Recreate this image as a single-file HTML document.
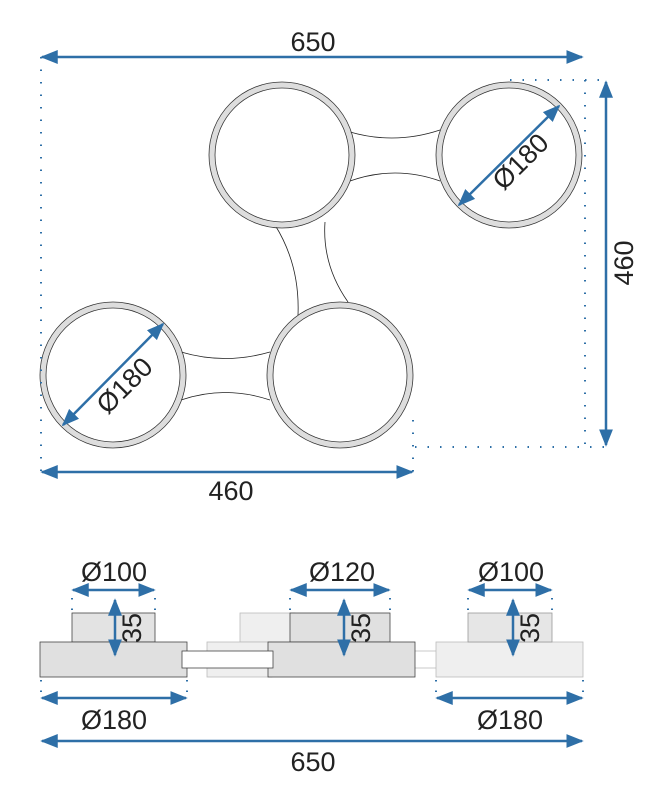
<!DOCTYPE html>
<html><head><style>body{margin:0;background:#fff}svg{display:block}</style></head><body>
<svg width="665" height="800" viewBox="0 0 665 800" xmlns="http://www.w3.org/2000/svg" font-family="Liberation Sans, sans-serif">
<defs>
<marker id="a" viewBox="0 0 10 10" refX="9" refY="5" markerWidth="7" markerHeight="7" orient="auto-start-reverse"><path d="M0,1 L10,5 L0,9 z" fill="#2e6fa7"/></marker>
</defs>
<g fill="none" stroke="#222" stroke-width="0.8">
<path d="M350,132 Q395,145 440,130"/><path d="M350,181 Q395,165 440,181"/>
<path d="M275,225 Q300,265 298,315"/><path d="M325,222 Q322,265 348,302"/>
<path d="M181,352 Q225,365 270,352"/><path d="M181,400 Q225,385 270,400"/>
</g>
<g>
<g fill="#fff" stroke="#ddd" stroke-width="5">
<circle cx="282" cy="155" r="70"/><circle cx="509" cy="155" r="70"/>
<circle cx="113" cy="375" r="70"/><circle cx="340" cy="375" r="70"/>
</g>
<g fill="none" stroke="#333" stroke-width="0.8">
<circle cx="282" cy="155" r="73"/><circle cx="282" cy="155" r="67"/>
<circle cx="509" cy="155" r="73"/><circle cx="509" cy="155" r="67"/>
<circle cx="113" cy="375" r="73"/><circle cx="113" cy="375" r="67"/>
<circle cx="340" cy="375" r="73"/><circle cx="340" cy="375" r="67"/>
</g>
</g>
<g stroke="#2e6fa7" stroke-width="2" stroke-dasharray="1.5 11" fill="none">
<path d="M41,57 V472"/><path d="M510,80 H605"/><path d="M585,80 V447"/><path d="M415,447 H605"/><path d="M413,420 V472"/>
</g>
<g stroke="#2e6fa7" stroke-width="2.5" fill="none" marker-start="url(#a)" marker-end="url(#a)">
<path d="M42,57 H582"/><path d="M606,82 V445"/><path d="M42,472 H412"/>
<path d="M459,205 L559,106"/><path d="M63,425 L163,324"/>
</g>
<g font-size="27" fill="#222" text-anchor="middle">
<text x="313" y="51">650</text>
<text x="231" y="500">460</text>
<text transform="translate(633,263) rotate(-90)">460</text>
<text transform="translate(527,168) rotate(-45)">Ø180</text>
<text transform="translate(131,392) rotate(-45)">Ø180</text>
</g>
<!-- side view -->
<g stroke="#444" stroke-width="0.8">
<rect x="240" y="613" width="55" height="29" fill="#efefef" stroke="#bbb"/>
<rect x="207" y="642" width="65" height="35" fill="#efefef" stroke="#bbb"/>
<rect x="413" y="651" width="28" height="17" fill="#fff" stroke="#bbb"/>
<rect x="436" y="642" width="147" height="35" fill="#efefef" stroke="#bbb"/>
<rect x="468" y="613" width="84" height="29" fill="#e6e6e6" stroke="#999"/>
<rect x="72" y="613" width="83" height="29" fill="#e3e3e3"/>
<rect x="40" y="642" width="147" height="35" fill="#e0e0e0"/>
<rect x="290" y="613" width="100" height="29" fill="#e0e0e0"/>
<rect x="268" y="642" width="147" height="35" fill="#e0e0e0"/>
<rect x="182" y="651" width="91" height="17" fill="#fff"/>
</g>
<g stroke="#2e6fa7" stroke-width="2" stroke-dasharray="1.5 9" fill="none">
<path d="M41,680 V700"/><path d="M187,680 V700"/><path d="M436,680 V700"/><path d="M583,680 V700"/>
<path d="M72,598 V613"/><path d="M155,598 V613"/><path d="M290,598 V613"/><path d="M390,598 V613"/><path d="M468,598 V613"/><path d="M552,598 V613"/>
</g>
<g stroke="#2e6fa7" stroke-width="2.5" fill="none" marker-start="url(#a)" marker-end="url(#a)">
<path d="M73,590 H154"/><path d="M291,590 H389"/><path d="M469,590 H551"/>
<path d="M42,698 H186"/><path d="M437,698 H582"/><path d="M42,741 H582"/>
<path d="M115,600 V655"/><path d="M344,600 V655"/><path d="M513,600 V655"/>
</g>
<g font-size="27" fill="#222" text-anchor="middle">
<text x="114" y="581">Ø100</text>
<text x="342" y="581">Ø120</text>
<text x="511" y="581">Ø100</text>
<text transform="translate(141,628) rotate(-90)">35</text>
<text transform="translate(370,628) rotate(-90)">35</text>
<text transform="translate(539,628) rotate(-90)">35</text>
<text x="114" y="729">Ø180</text>
<text x="510" y="729">Ø180</text>
<text x="313" y="771">650</text>
</g>
</svg>
</body></html>
